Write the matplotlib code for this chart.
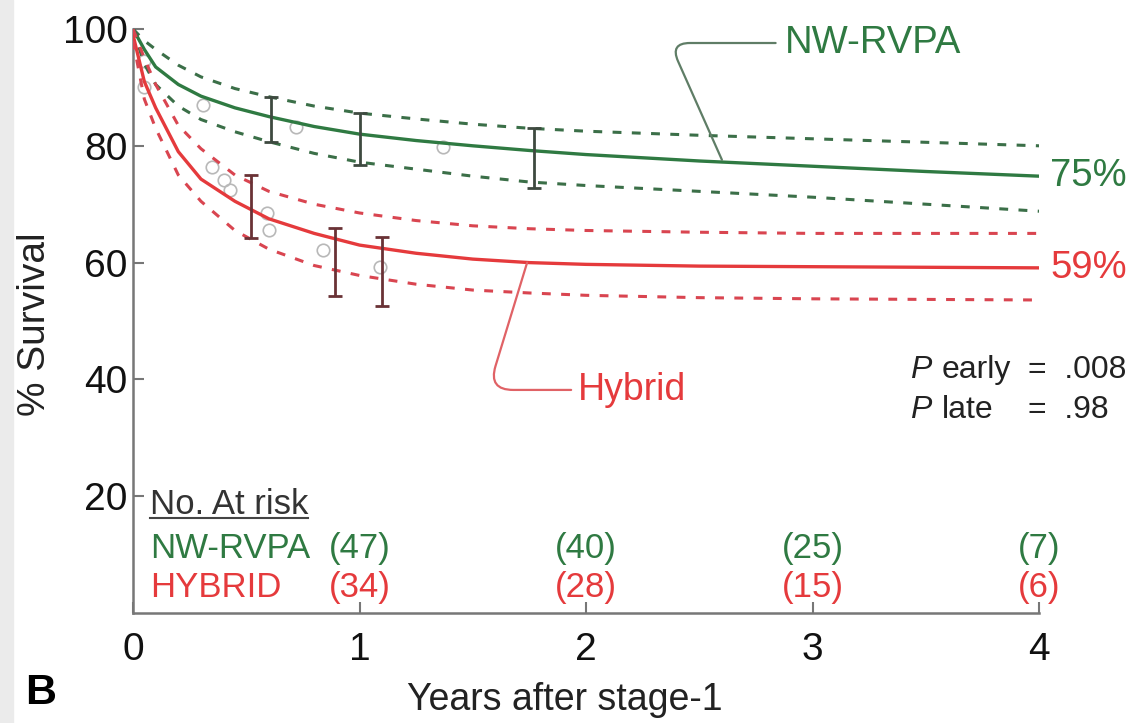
import matplotlib
matplotlib.use("Agg")
import matplotlib.pyplot as plt
from matplotlib.patches import Rectangle

plt.rcParams.update({
    "font.family": ["Liberation Sans", "DejaVu Sans"],
    "font.size": 24,
})

# ---- data ----
years = [0, 0.05, 0.1, 0.2, 0.3, 0.45, 0.6, 0.8, 1.0, 1.25, 1.5, 1.75, 2.0, 2.5, 3.0, 3.5, 4.0]

nw_mid = [100, 96.5, 93.5, 90.5, 88.5, 86.5, 85.0, 83.3, 82.0, 80.9, 80.0, 79.2, 78.5, 77.4, 76.5, 75.6, 74.8]
nw_hi = [100, 98.0, 96.5, 93.8, 91.8, 89.8, 88.4, 86.8, 85.6, 84.6, 83.7, 83.0, 82.5, 81.8, 81.2, 80.6, 80.0]
nw_lo = [100, 94.0, 90.5, 86.8, 84.5, 82.4, 80.7, 78.7, 77.2, 76.0, 74.8, 73.8, 73.2, 72.2, 71.2, 70.0, 68.8]

hy_mid = [99, 91.0, 86.5, 79.0, 74.3, 70.5, 67.5, 65.0, 63.0, 61.6, 60.6, 60.0, 59.7, 59.4, 59.3, 59.2, 59.1]
hy_hi = [100, 95.0, 90.5, 83.5, 79.5, 75.0, 72.2, 70.0, 68.5, 67.2, 66.3, 65.8, 65.5, 65.2, 65.0, 65.0, 65.0]
hy_lo = [98, 88.0, 83.0, 75.0, 70.5, 65.5, 62.3, 59.5, 57.8, 56.3, 55.3, 54.8, 54.4, 54.0, 53.8, 53.7, 53.6]

# confidence bars
nw_bar_t = [0.61, 1.0, 1.77]
nw_bar_lo = [80.6, 76.7, 72.8]
nw_bar_hi = [88.4, 85.7, 83.0]
hy_bar_t = [0.52, 0.89, 1.10]
hy_bar_lo = [64.2, 54.2, 52.5]
hy_bar_hi = [75.0, 65.9, 64.4]

# observed deaths (open circles)
nw_obs_t = [0.05, 0.31, 0.72, 1.37]
nw_obs_s = [94.5, 87.0, 83.3, 79.8]
hy_obs_t = [0.05, 0.35, 0.40, 0.43, 0.59, 0.60, 0.84, 1.09]
hy_obs_s = [90.0, 76.4, 74.1, 72.4, 68.5, 65.6, 62.2, 59.2]

risk_years = [1, 2, 3, 4]
nw_risk = [47, 40, 25, 7]
hy_risk = [34, 28, 15, 6]

green = "#2f7a42"
green_d = "#3b6f48"
red = "#e53a3c"
red_d = "#d94550"
axis_grey = "#777777"
dash = (2.9, 3.4)

fig = plt.figure(figsize=(11.3, 7.23), dpi=100)
fig.patches.append(Rectangle((0, 0), 13 / 1130, 1, transform=fig.transFigure,
                             color="#ebebeb", zorder=-5))
ax = fig.add_axes([0.1177, 0.1521, 0.8018, 0.8078])

# curves
ax.plot(years, nw_mid, color=green, lw=2.4, zorder=3)
ax.plot(years, nw_hi, color=green_d, lw=2.2, dashes=dash, zorder=3)
ax.plot(years, nw_lo, color=green_d, lw=2.2, dashes=dash, zorder=3)
ax.plot(years, hy_mid, color=red, lw=2.4, zorder=3)
ax.plot(years, hy_hi, color=red_d, lw=2.2, dashes=dash, zorder=3)
ax.plot(years, hy_lo, color=red_d, lw=2.2, dashes=dash, zorder=3)

# circles
ax.plot(nw_obs_t, nw_obs_s, "o", mfc="none", mec="#b8b8b8", ms=9, mew=1.2, zorder=2)
ax.plot(hy_obs_t, hy_obs_s, "o", mfc="none", mec="#b8b8b8", ms=9, mew=1.2, zorder=2)

# error bars
for t, lo, hi, c in zip(nw_bar_t + hy_bar_t, nw_bar_lo + hy_bar_lo,
                        nw_bar_hi + hy_bar_hi,
                        ["#3e4a40"] * 3 + ["#6a3236"] * 3):
    mid = (lo + hi) / 2
    ax.errorbar([t], [mid], yerr=[[mid - lo], [hi - mid]], fmt="none",
                ecolor=c, elinewidth=2, capsize=5, capthick=2, zorder=4)

ax.set_xlim(0, 4)
ax.set_ylim(0, 100)
ax.set_xticks([0, 1, 2, 3, 4])
ax.set_yticks([20, 40, 60, 80, 100])
for s in ["top", "right"]:
    ax.spines[s].set_visible(False)
for s in ["left", "bottom"]:
    ax.spines[s].set_color(axis_grey)
    ax.spines[s].set_linewidth(1.8)
ax.tick_params(direction="in", length=8, width=1.5, color=axis_grey,
               labelsize=28, labelcolor="#111111")
ax.tick_params(axis="y", pad=4)
ax.tick_params(axis="x", pad=14)

ax.set_xlabel("Years after stage-1", fontsize=27, color="#222222")
ax.xaxis.set_label_coords(0.477, -0.118)
ax.set_ylabel("% Survival", fontsize=28, color="#222222")
ax.yaxis.set_label_coords(-0.088, 0.495)

# curve labels with leaders
ax.annotate("NW-RVPA", xy=(2.60, 77.6), xytext=(2.88, 97.6), color=green,
            fontsize=27.5, va="center", ha="left", annotation_clip=False,
            arrowprops=dict(arrowstyle="-", color="#5f7d66", lw=1.6,
                            shrinkA=5, shrinkB=0,
                            connectionstyle="angle,angleA=0,angleB=114,rad=20"))
ax.annotate("Hybrid", xy=(1.74, 60.0), xytext=(1.965, 38.2), color=red,
            fontsize=27, va="center", ha="left", annotation_clip=False,
            arrowprops=dict(arrowstyle="-", color="#e06266", lw=1.6,
                            shrinkA=3, shrinkB=0,
                            connectionstyle="angle,angleA=0,angleB=73,rad=25"))

ax.text(4.05, nw_mid[-1], "75%", color=green, fontsize=27.5, va="center",
        ha="left", clip_on=False)
ax.text(4.05, hy_mid[-1], "59%", color=red, fontsize=27.5, va="center",
        ha="left", clip_on=False)

# p values
for y, word, val in [(41.6, "early", "=  .008"), (34.8, "late", "=  .98")]:
    ax.text(3.43, y, "P", style="italic", fontsize=23, va="center",
            color="#222222", clip_on=False)
    ax.text(3.57, y, word, fontsize=23, va="center", color="#222222",
            clip_on=False)
    ax.text(3.95, y, val, fontsize=23, va="center", color="#222222",
            clip_on=False)

# number at risk table
hdr = ax.text(0.075, 18.5, "No. At risk", fontsize=25, va="center",
              ha="left", color="#333333")
ax.text(0.075, 11.1, "NW-RVPA", fontsize=25, va="center", ha="left", color=green)
ax.text(0.075, 4.3, "HYBRID", fontsize=25, va="center", ha="left", color=red)
for t, n1, n2 in zip(risk_years, nw_risk, hy_risk):
    ax.text(t, 11.1, f"({n1})", fontsize=25, va="center", ha="center",
            color=green, clip_on=False)
    ax.text(t, 4.3, f"({n2})", fontsize=25, va="center", ha="center",
            color=red, clip_on=False)

fig.text(25 / 1130, 1 - 693 / 723, "B", fontsize=31, fontweight="bold",
         va="center", ha="left")

# underline the table header
fig.canvas.draw()
bb = hdr.get_window_extent(fig.canvas.get_renderer())
inv = ax.transData.inverted()
(x0, y0), (x1, _) = inv.transform([(bb.x0, bb.y0 + 3), (bb.x1, bb.y0 + 3)])
ax.plot([x0, x1], [y0, y0], color="#444444", lw=1.5, clip_on=False)

fig.savefig("out.png", dpi=100)
